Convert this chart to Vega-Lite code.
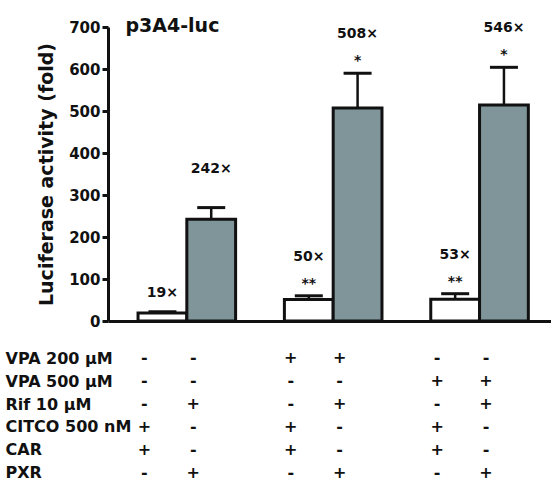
{
  "$schema": "https://vega.github.io/schema/vega-lite/v6.json",
  "padding": {"left": 5, "top": 17, "right": 0, "bottom": 0},
  "background": "white",
  "config": {
    "view": {"stroke": null},
    "font": "DejaVu Sans",
    "text": {"font": "DejaVu Sans", "fontWeight": "bold"}
  },
  "spacing": 18,
  "resolve": {"scale": {"x": "shared"}},
  "vconcat": [
    {
      "width": 443,
      "height": 294,
      "data": {"values": [
        {"slot": "c1", "receptor": "CAR", "fold": 19, "hi": 22, "label": "19×", "star": ""},
        {"slot": "p1", "receptor": "PXR", "fold": 242, "hi": 270, "label": "242×", "star": ""},
        {"slot": "c2", "receptor": "CAR", "fold": 51, "hi": 60, "label": "50×", "star": "**"},
        {"slot": "p2", "receptor": "PXR", "fold": 507, "hi": 590, "label": "508×", "star": "*"},
        {"slot": "c3", "receptor": "CAR", "fold": 52, "hi": 65, "label": "53×", "star": "**"},
        {"slot": "p3", "receptor": "PXR", "fold": 514, "hi": 604, "label": "546×", "star": "*"}
      ]},
      "encoding": {
        "x": {
          "field": "slot", "type": "nominal",
          "scale": {"type": "band", "domain": ["c1", "p1", "g1", "c2", "p2", "g2", "c3", "p3"], "paddingInner": 0, "paddingOuter": 0.54, "align": 0.57},
          "axis": {"labels": false, "ticks": false, "title": null, "domainWidth": 3, "domainColor": "#111"}
        }
      },
      "layer": [
        {
          "mark": {"type": "rule", "color": "#111", "strokeWidth": 2.5},
          "encoding": {
            "y": {"field": "fold", "type": "quantitative"},
            "y2": {"field": "hi"}
          }
        },
        {
          "mark": {"type": "tick", "color": "#111", "size": 28, "thickness": 3, "opacity": 1},
          "encoding": {"y": {"field": "hi", "type": "quantitative"}}
        },
        {
          "mark": {"type": "bar", "stroke": "#111", "strokeWidth": 3, "opacity": 1},
          "encoding": {
            "y": {
              "field": "fold", "type": "quantitative",
              "scale": {"domain": [0, 700], "nice": false},
              "axis": {
                "values": [0, 100, 200, 300, 400, 500, 600, 700],
                "title": "Luciferase activity (fold)",
                "titleFont": "DejaVu Sans", "titleFontSize": 19, "titleFontWeight": "bold", "titleColor": "#111", "titlePadding": 12,
                "labelFont": "DejaVu Sans", "labelFontSize": 15, "labelFontWeight": "bold", "labelColor": "#111", "labelPadding": 2,
                "domainWidth": 3, "domainColor": "#111", "tickSize": 6, "tickWidth": 3, "tickColor": "#111", "grid": false
              }
            },
            "color": {
              "field": "receptor", "type": "nominal",
              "scale": {"domain": ["CAR", "PXR"], "range": ["#ffffff", "#7f959a"]},
              "legend": null
            }
          }
        },
        {
          "transform": [{"filter": "datum.hi - datum.fold > 5"}],
          "mark": {"type": "text", "fontSize": 14, "dy": -39, "color": "#111"},
          "encoding": {"y": {"field": "hi", "type": "quantitative"}, "text": {"field": "label"}}
        },
        {
          "transform": [{"filter": "datum.hi - datum.fold <= 5"}],
          "mark": {"type": "text", "fontSize": 14, "dy": -19, "color": "#111"},
          "encoding": {"y": {"field": "hi", "type": "quantitative"}, "text": {"field": "label"}}
        },
        {
          "mark": {"type": "text", "fontSize": 14, "dy": -12, "color": "#111"},
          "encoding": {"y": {"field": "hi", "type": "quantitative"}, "text": {"field": "star"}}
        },
        {
          "data": {"values": [{"t": "p3A4-luc"}]},
          "mark": {"type": "text", "fontSize": 19, "baseline": "alphabetic", "dx": 10, "dy": 5, "color": "#111"},
          "encoding": {
            "x": {"datum": "c1"},
            "y": {"datum": 700, "type": "quantitative"},
            "text": {"field": "t"}
          }
        }
      ]
    },
    {
      "width": 443,
      "height": 137,
      "data": {"values": [
        {"slot": "c1", "row": "VPA 200 μM", "sign": "-"}, {"slot": "p1", "row": "VPA 200 μM", "sign": "-"},
        {"slot": "c2", "row": "VPA 200 μM", "sign": "+"}, {"slot": "p2", "row": "VPA 200 μM", "sign": "+"},
        {"slot": "c3", "row": "VPA 200 μM", "sign": "-"}, {"slot": "p3", "row": "VPA 200 μM", "sign": "-"},
        {"slot": "c1", "row": "VPA 500 μM", "sign": "-"}, {"slot": "p1", "row": "VPA 500 μM", "sign": "-"},
        {"slot": "c2", "row": "VPA 500 μM", "sign": "-"}, {"slot": "p2", "row": "VPA 500 μM", "sign": "-"},
        {"slot": "c3", "row": "VPA 500 μM", "sign": "+"}, {"slot": "p3", "row": "VPA 500 μM", "sign": "+"},
        {"slot": "c1", "row": "Rif 10 μM", "sign": "-"}, {"slot": "p1", "row": "Rif 10 μM", "sign": "+"},
        {"slot": "c2", "row": "Rif 10 μM", "sign": "-"}, {"slot": "p2", "row": "Rif 10 μM", "sign": "+"},
        {"slot": "c3", "row": "Rif 10 μM", "sign": "-"}, {"slot": "p3", "row": "Rif 10 μM", "sign": "+"},
        {"slot": "c1", "row": "CITCO 500 nM", "sign": "+"}, {"slot": "p1", "row": "CITCO 500 nM", "sign": "-"},
        {"slot": "c2", "row": "CITCO 500 nM", "sign": "+"}, {"slot": "p2", "row": "CITCO 500 nM", "sign": "-"},
        {"slot": "c3", "row": "CITCO 500 nM", "sign": "+"}, {"slot": "p3", "row": "CITCO 500 nM", "sign": "-"},
        {"slot": "c1", "row": "CAR", "sign": "+"}, {"slot": "p1", "row": "CAR", "sign": "-"},
        {"slot": "c2", "row": "CAR", "sign": "+"}, {"slot": "p2", "row": "CAR", "sign": "-"},
        {"slot": "c3", "row": "CAR", "sign": "+"}, {"slot": "p3", "row": "CAR", "sign": "-"},
        {"slot": "c1", "row": "PXR", "sign": "-"}, {"slot": "p1", "row": "PXR", "sign": "+"},
        {"slot": "c2", "row": "PXR", "sign": "-"}, {"slot": "p2", "row": "PXR", "sign": "+"},
        {"slot": "c3", "row": "PXR", "sign": "-"}, {"slot": "p3", "row": "PXR", "sign": "+"}
      ]},
      "mark": {"type": "text", "fontSize": 16, "dx": -18, "color": "#111"},
      "encoding": {
        "x": {"field": "slot", "type": "nominal", "axis": null},
        "y": {
          "field": "row", "type": "nominal",
          "sort": ["VPA 200 μM", "VPA 500 μM", "Rif 10 μM", "CITCO 500 nM", "CAR", "PXR"],
          "axis": {"title": null, "domain": false, "ticks": false, "labelAlign": "left", "labelPadding": 103,
                   "labelFont": "DejaVu Sans", "labelFontSize": 16, "labelFontWeight": "bold", "labelColor": "#111"}
        },
        "text": {"field": "sign"}
      }
    }
  ]
}
